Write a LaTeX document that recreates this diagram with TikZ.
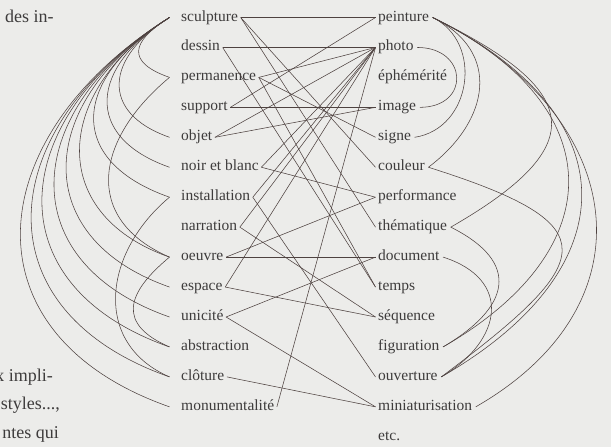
\documentclass[tikz,border=0pt]{standalone}
\usepackage{fontspec}
\setmainfont{Liberation Serif}
\usetikzlibrary{calc}
\definecolor{bg}{RGB}{236,236,234}
\definecolor{ink}{RGB}{78,66,64}
\definecolor{txt}{RGB}{62,60,60}
\newcommand\larc[5]{%
  \path ([xshift=-9pt]#1.west) coordinate (la) ([xshift=-9pt]#2.west) coordinate (lb);
  \draw[lnk] (la) .. controls ($(la)+#3*(#4)$) and ($(lb)+#3*(#5)$) .. (lb);}
\newcommand\rarc[5]{%
  \path ([xshift=1pt]#1.east) coordinate (ra) ([xshift=1pt]#2.east) coordinate (rb);
  \draw[lnk] (ra) .. controls ($(ra)+#3*(#4)$) and ($(rb)+#3*(#5)$) .. (rb);}
\begin{document}
\begin{tikzpicture}[x=1pt,y=1pt,
  word/.style={font=\fontsize{15.5}{17}\selectfont, text=txt, inner xsep=2.5pt, inner ysep=0pt,
    text height=7pt, text depth=0pt, anchor=west},
  body/.style={font=\fontsize{18}{20}\selectfont, text=txt, inner sep=0pt},
  lnk/.style={draw=ink, line width=0.55pt},
]
\fill[bg] (0,0) rectangle (611,-447);
\useasboundingbox (0,0) rectangle (611,-447);
\begin{scope}
\clip (0,0) rectangle (611,-447);
\node[body, anchor=base west] (t1) at (5,-22) {des in-};
\node[body, anchor=base east] (t2) at (53,-381) {x impli-};
\node[body, anchor=base east] (t3) at (60,-409) {styles...,};
\node[body, anchor=base east] (t4) at (59,-438) {ntes qui};
\end{scope}
% left column
\foreach \n/\t [count=\i from 0] in {sculpture/sculpture, dessin/dessin, permanence/permanence,
  support/support, objet/objet, noir/noir et blanc, installation/installation, narration/narration,
  oeuvre/oeuvre, espace/espace, unicite/unicité, abstraction/abstraction, cloture/clôture,
  monumentalite/monumentalité}
  \node[word] (\n) at (178.5,{-17.5-29.95*\i}) {\t};
% right column
\foreach \n/\t [count=\i from 0] in {peinture/peinture, photo/photo, ephemerite/éphémérité,
  image/image, signe/signe, couleur/couleur, performance/performance, thematique/thématique,
  document/document, temps/temps, sequence/séquence, figuration/figuration, ouverture/ouverture,
  miniaturisation/miniaturisation, etc/etc.}
  \node[word] (\n) at (375.5,{-17.5-29.95*\i}) {\t};
% left arcs
\larc{sculpture}{permanence}{46}{-0.85,-0.53}{-0.94,0.33}
\larc{sculpture}{objet}{75}{-0.85,-0.53}{-0.94,0.33}
\larc{sculpture}{noir}{93}{-0.85,-0.53}{-0.94,0.33}
\larc{sculpture}{installation}{113}{-0.85,-0.53}{-0.94,0.33}
\larc{sculpture}{oeuvre}{134}{-0.85,-0.53}{-0.94,0.33}
\larc{sculpture}{espace}{154}{-0.85,-0.53}{-0.94,0.33}
\larc{sculpture}{unicite}{172}{-0.85,-0.53}{-0.94,0.33}
\larc{sculpture}{abstraction}{190}{-0.85,-0.53}{-0.94,0.33}
\larc{sculpture}{cloture}{206}{-0.85,-0.53}{-0.94,0.33}
\larc{sculpture}{monumentalite}{222}{-0.85,-0.53}{-0.94,0.33}
\larc{permanence}{oeuvre}{96}{-0.77,-0.64}{-0.92,0.4}
\larc{installation}{cloture}{85}{-0.77,-0.64}{-0.92,0.4}
\larc{oeuvre}{abstraction}{57}{-0.77,-0.64}{-0.92,0.4}
% right arcs
\rarc{peinture}{signe}{57}{0.9,-0.44}{1,0.15}
\rarc{peinture}{couleur}{77}{0.9,-0.44}{0.8,0.6}
\rarc{peinture}{thematique}{165}{0.9,-0.44}{0.87,0.5}
\rarc{peinture}{figuration}{197}{0.9,-0.44}{0.87,0.5}
\rarc{peinture}{ouverture}{218}{0.9,-0.44}{0.87,0.5}
\rarc{peinture}{miniaturisation}{212}{0.9,-0.44}{0.87,0.5}
\rarc{photo}{image}{51}{1,0}{1,0}
\rarc{couleur}{ouverture}{194}{0.95,-0.3}{0.8,0.6}
\rarc{thematique}{figuration}{79}{0.9,-0.45}{0.85,0.5}
\rarc{document}{ouverture}{73}{0.95,-0.3}{0.85,0.5}
% middle lines
\foreach \a/\b in {sculpture/peinture, sculpture/couleur, sculpture/thematique,
  dessin/photo, dessin/temps, permanence/photo, permanence/signe,
  support/image, support/peinture, objet/photo, objet/image, noir/photo, noir/performance,
  installation/photo, installation/ouverture, narration/photo, oeuvre/document,
  oeuvre/performance, espace/photo, espace/sequence, unicite/document,
  unicite/miniaturisation, cloture/miniaturisation, monumentalite/photo,
  permanence/temps, narration/sequence}
  \draw[lnk] (\a.east) -- (\b.west);
\end{tikzpicture}
\end{document}
